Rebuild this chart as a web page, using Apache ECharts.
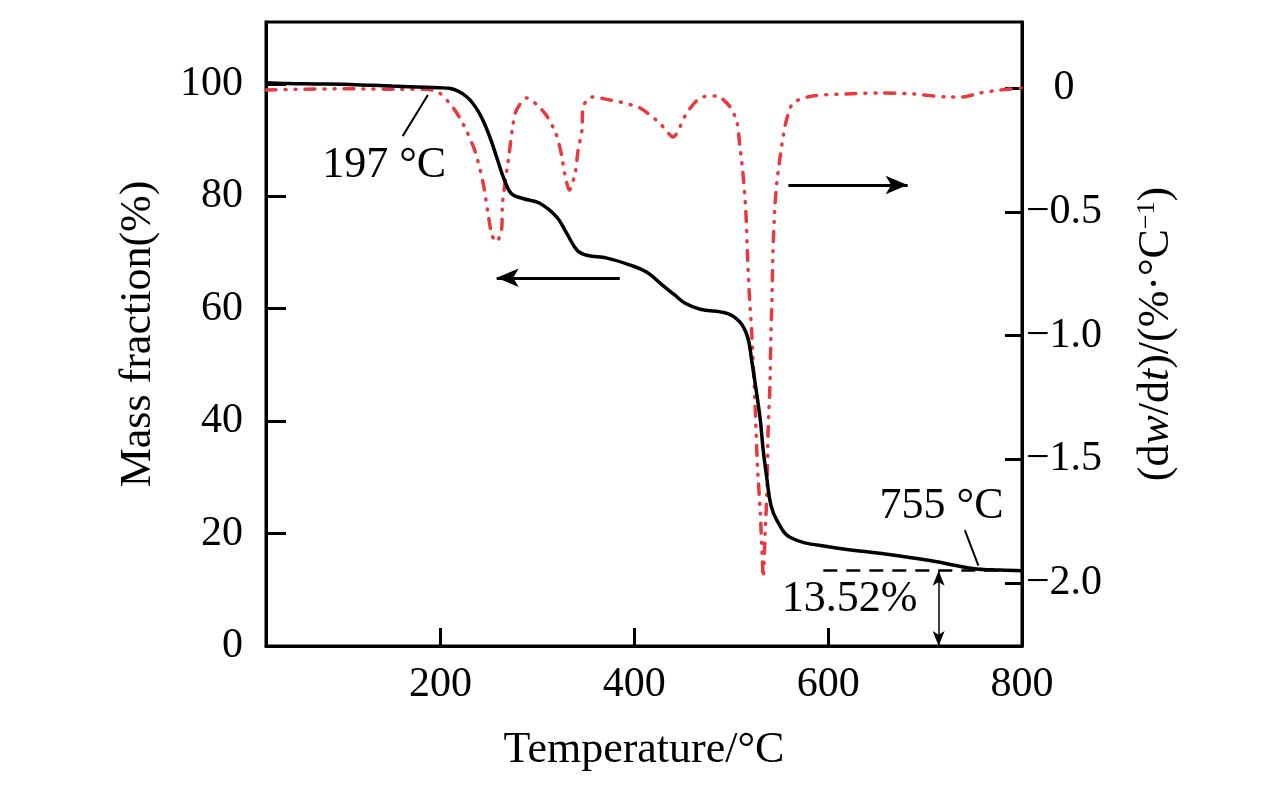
<!DOCTYPE html>
<html>
<head>
  <meta charset="utf-8">
  <title>TG / DTG</title>
  <script src="https://cdn.jsdelivr.net/npm/echarts/dist/echarts.min.js"></script>
  <style>
    html, body { margin: 0; padding: 0; background: #fff; }
    #main { width: 1276px; height: 787px; }
  </style>
</head>
<body>
  <div id="main"></div>
  <script type="text/javascript">
    // TG curve (mass fraction, left axis)
    var tgTemp = [20, 60, 106, 150, 185, 199, 209, 227, 240, 251, 259, 266, 273, 285, 302, 320, 330, 341, 351, 372,
                  395, 413, 429, 442, 452, 468, 495, 509, 517, 521, 525, 530, 533, 537, 541, 547, 561, 602, 653, 705,
                  749, 777, 800];
    var tgMass = [100.2, 100.0, 99.9, 99.6, 99.4, 99.3, 99.2, 97.7, 94.8, 90.5, 86.4, 82.9, 80.5, 79.6, 78.8, 76.3, 73.5, 70.4, 69.5, 69.0,
                  67.8, 66.5, 64.2, 62.4, 61.0, 59.9, 59.2, 57.6, 54.9, 50.9, 46.4, 40.2, 34.8, 29.5, 25.0, 22.4, 19.3, 17.6, 16.5, 15.2,
                  13.8, 13.5, 13.4];

    // DTG curve (dw/dt, right axis)
    var dtgTemp = [20, 55, 106, 158, 186, 199, 211, 220, 228, 236, 244, 249, 253, 258, 263, 264, 271, 274, 278, 289,
                   300, 309, 319, 325, 328, 333, 339, 342, 346, 347, 356, 375, 385, 406, 426, 440, 454, 468, 485, 499,
                   506, 509, 512, 515, 517, 519, 521, 523, 525, 527, 530, 532, 533, 535, 537, 538, 540, 541, 542, 543,
                   545, 547, 550, 553, 557, 564, 584, 619, 653, 688, 723, 739, 757, 777, 800];
    var dtgRate = [-0.007, -0.004, -0.002, -0.004, -0.004, -0.019, -0.068, -0.12, -0.181, -0.258, -0.383, -0.504, -0.593, -0.621, -0.573, -0.464, -0.262, -0.169, -0.092, -0.039,
                   -0.068, -0.108, -0.181, -0.27, -0.343, -0.412, -0.343, -0.25, -0.169, -0.076, -0.035, -0.047, -0.055, -0.08, -0.14, -0.197, -0.10, -0.039, -0.031, -0.076,
                   -0.14, -0.237, -0.339, -0.492, -0.694, -0.856, -0.978, -1.14, -1.321, -1.524, -1.718, -1.896, -1.977, -1.799, -1.613, -1.394, -1.192, -0.99, -0.856, -0.666,
                   -0.48, -0.383, -0.29, -0.209, -0.128, -0.059, -0.031, -0.023, -0.019, -0.023, -0.035, -0.035, -0.019, -0.007, 0.001];

    var xTicks = [200, 400, 600, 800];
    var leftTicks = [0, 20, 40, 60, 80, 100];
    var rightTicks = [0, -0.5, -1.0, -1.5, -2.0];

    var residue = 13.4;
    var serif = "'Liberation Serif', 'Times New Roman', serif";

    function zip(a, b) {
      var out = [];
      for (var i = 0; i < a.length; i++) out.push([a[i], b[i]]);
      return out;
    }

    var myChart = echarts.init(document.getElementById('main'), null, { renderer: 'canvas' });

    var option = {
      backgroundColor: '#fff',
      animation: false,
      textStyle: { fontFamily: serif, color: '#000' },
      grid: {
        left: 266, right: 254, top: 22, bottom: 141,
        show: true, borderColor: '#000', borderWidth: 3,
        containLabel: false, outerBoundsMode: 'none'
      },
      xAxis: {
        type: 'value', min: 20, max: 800,
        name: 'Temperature/°C', nameLocation: 'middle', nameGap: 82,
        nameTextStyle: { fontSize: 44, fontFamily: serif, color: '#000' },
        axisLine: { show: true, lineStyle: { color: '#000', width: 3 } },
        axisTick: { show: true, inside: true, length: 18, customValues: xTicks, lineStyle: { color: '#000', width: 3 } },
        axisLabel: { customValues: xTicks, fontSize: 42, margin: 18, color: '#000', fontFamily: serif },
        splitLine: { show: false }
      },
      yAxis: [{
        type: 'value', min: 0, max: 111, position: 'left',
        name: 'Mass fraction(%)', nameLocation: 'middle', nameGap: 106, nameRotate: 90,
        nameTextStyle: { fontSize: 44, fontFamily: serif, color: '#000' },
        axisLine: { show: true, lineStyle: { color: '#000', width: 3 } },
        axisTick: { show: true, inside: true, length: 20, customValues: leftTicks, lineStyle: { color: '#000', width: 3 } },
        axisLabel: { customValues: leftTicks, fontSize: 42, margin: 23, color: '#000', fontFamily: serif },
        splitLine: { show: false }
      }, {
        type: 'value', min: -2.255, max: 0.268, position: 'right',
        name: '(d{i|w}/d{i|t})/(%·°C{s|\u22121})', nameLocation: 'middle', nameGap: 112, nameRotate: 90,
        nameTextStyle: {
          fontSize: 44, fontFamily: serif, color: '#000', lineHeight: 44,
          rich: {
            i: { fontSize: 44, fontFamily: serif, fontStyle: 'italic', color: '#000', lineHeight: 44 },
            s: { fontSize: 26, fontFamily: serif, color: '#000', verticalAlign: 'top', lineHeight: 26 }
          }
        },
        axisLine: { show: true, lineStyle: { color: '#000', width: 3 } },
        axisTick: { show: true, inside: true, length: 17, customValues: rightTicks, lineStyle: { color: '#000', width: 3 } },
        axisLabel: {
          customValues: rightTicks, fontSize: 42, margin: 42, align: 'center', color: '#000', fontFamily: serif,
          formatter: function (v) { return v === 0 ? '0' : '\u2212' + Math.abs(v).toFixed(1); }
        },
        splitLine: { show: false }
      }],
      series: [{
        name: 'DTG',
        type: 'line',
        yAxisIndex: 1,
        data: zip(dtgTemp, dtgRate),
        showSymbol: false,
        smooth: 0.25,
        lineStyle: { color: '#e8393e', width: 3.5, type: [10, 9, 1, 9, 1, 9], cap: 'round' },
        z: 2
      }, {
        name: 'TG',
        type: 'line',
        yAxisIndex: 0,
        data: zip(tgTemp, tgMass),
        showSymbol: false,
        smooth: 0.4,
        lineStyle: { color: '#000', width: 3.5 },
        z: 3,
        markLine: {
          silent: true,
          animation: false,
          symbol: ['none', 'none'],
          label: { show: false },
          data: [
            // 197 °C leader
            [{ coord: [161, 90.7], lineStyle: { color: '#000', width: 2, type: 'solid' } }, { coord: [187, 98.0] }],
            // 755 °C leader
            [{ coord: [741, 20.6], lineStyle: { color: '#000', width: 2, type: 'solid' } }, { coord: [755, 14.3] }],
            // arrow to left axis
            [{ coord: [385, 65.5], symbol: 'none', lineStyle: { color: '#000', width: 3, type: 'solid' } },
             { coord: [258, 65.5], symbol: 'arrow', symbolSize: [14, 22] }],
            // arrow to right axis
            [{ coord: [559, 82.0], symbol: 'none', lineStyle: { color: '#000', width: 3, type: 'solid' } },
             { coord: [682, 82.0], symbol: 'arrow', symbolSize: [14, 22] }],
            // residue dashed line
            [{ coord: [595, residue], lineStyle: { color: '#000', width: 2.5, type: [14, 9] } }, { coord: [800, residue] }],
            // residue double arrow
            [{ coord: [714, residue], symbol: 'arrow', symbolSize: [9, 15], lineStyle: { color: '#000', width: 1.5, type: 'solid' } },
             { coord: [714, 0], symbol: 'arrow', symbolSize: [9, 15] }]
          ]
        },
        markPoint: {
          silent: true,
          animation: false,
          symbol: 'circle',
          symbolSize: 0,
          label: { show: true, position: 'inside', formatter: '{b}', fontSize: 44, color: '#000', fontFamily: serif },
          data: [
            { name: '197 °C', coord: [142, 85.4] },
            { name: '755 °C', coord: [717, 24.9] },
            { name: '13.52%', coord: [622, 8.2] }
          ]
        }
      }]
    };

    myChart.setOption(option);
  </script>
</body>
</html>
